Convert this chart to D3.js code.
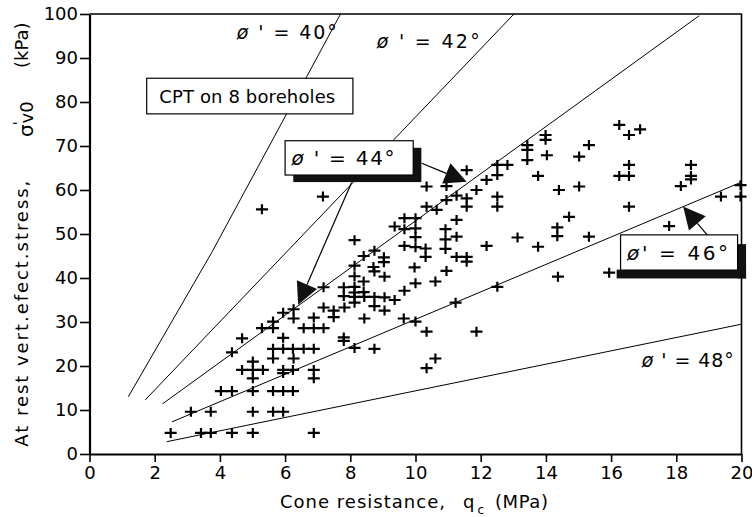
<!DOCTYPE html>
<html>
<head>
<meta charset="utf-8">
<script src="https://cdn.jsdelivr.net/npm/d3@7/dist/d3.min.js"></script>
<style>
  html, body { margin: 0; padding: 0; background: #fff; }
  svg { display: block; font-family: "DejaVu Sans", sans-serif; }
</style>
</head>
<body>
<svg id="chart" width="752" height="517"></svg>
<script>
// ---- data: cone resistance qc (MPa) and at-rest vertical effective stress (kPa)
const qc = [
  2.49,3.42,3.72,4.37,5.01,6.88,
  3.11,3.72,5.01,5.63,5.94,
  4.03,4.37,5.01,5.63,5.94,6.24,
  4.68,5.01,5.32,5.01,5.01,5.94,6.24,5.94,6.88,6.88,
  5.63,6.26,5.63,5.94,6.24,6.57,6.88,4.37,4.68,5.94,
  5.29,5.63,5.63,6.57,6.88,7.18,5.94,6.26,6.26,6.88,
  7.18,7.49,7.49,7.82,7.18,7.80,7.80,7.80,7.80,8.13,8.74,
  8.41,8.74,9.03,9.03,8.13,8.13,8.71,8.74,9.05,
  8.13,8.41,8.13,8.41,8.13,8.43,8.74,9.05,9.36,8.13,8.74,9.05,8.43,8.13,
  9.66,10.0,10.61,9.97,10.95,9.64,10.0,10.34,11.87,11.23,12.51,10.61,10.34,
  9.66,10.0,9.36,9.66,10.0,10.0,10.92,10.92,11.26,10.92,12.18,
  9.66,10.0,10.31,10.31,11.26,11.57,11.57,13.13,13.76,11.26,
  10.34,10.65,10.34,10.95,11.57,11.26,10.95,11.57,11.57,11.87,12.18,
  12.51,12.51,12.82,12.51,12.51,13.43,13.43,13.43,13.99,13.99,14.03,13.76,
  7.16,5.29,
  16.25,16.55,16.89,15.32,15.02,16.55,16.25,16.55,18.45,18.45,18.45,18.14,
  14.40,15.02,16.55,19.97,19.97,19.37,14.71,14.35,14.35,15.32,17.78,15.94,14.37
];
const sigma = [
  4.8,4.8,4.8,4.8,4.8,4.8,
  9.6,9.6,9.6,9.6,9.6,
  14.3,14.3,14.3,14.3,14.3,14.3,
  19.1,19.1,19.1,21.0,17.2,19.1,19.1,18.4,19.1,17.2,
  21.7,21.7,23.9,23.9,23.9,23.9,23.9,23.1,26.3,26.4,
  28.6,28.6,30.1,28.6,28.6,28.6,32.1,32.9,30.8,31.0,
  33.3,32.6,31.1,33.3,37.9,37.9,35.9,26.5,25.7,24.1,23.9,
  45.0,46.2,44.7,43.6,42.8,40.4,42.5,41.5,40.3,
  38.0,39.2,36.7,36.8,35.7,35.7,35.7,35.6,35.0,34.4,33.6,32.6,30.8,48.6,
  37.1,38.8,39.2,42.4,41.6,30.8,30.1,27.8,27.8,34.4,38.0,21.7,19.5,
  53.6,53.6,51.7,51.1,51.3,49.3,51.1,48.8,49.4,46.6,47.3,
  47.3,47.0,46.7,44.8,44.8,43.7,44.8,49.2,47.1,53.2,
  56.2,55.5,60.8,60.9,64.5,58.7,57.7,58.1,56.2,60.0,62.3,
  65.7,63.4,65.7,58.5,56.2,70.2,69.1,66.8,72.5,71.4,67.9,63.2,
  58.5,55.6,
  74.8,72.5,73.8,70.2,67.6,65.7,63.2,63.2,65.7,63.2,62.4,60.9,
  60.0,60.8,56.2,61.1,58.5,58.5,53.9,51.5,49.5,49.4,51.8,41.2,40.3
];

// friction-angle reference lines (qc, sigma'v0)
const phiNames = ["40", "42", "44", "46", "48"];
const phiQc = [[1.19, 3.75, 7.7], [1.71, 13.02], [2.24, 18.7], [2.53, 20.0], [2.37, 20.0]];
const phiSigma = [[13.0, 45.8, 100], [12.3, 100], [11.4, 99.6], [7.3, 61.8], [2.8, 29.5]];

const xTicks = [0, 2, 4, 6, 8, 10, 12, 14, 16, 18, 20];
const yTicks = [0, 10, 20, 30, 40, 50, 60, 70, 80, 90, 100];

// ---- layout
const W = 752, H = 517;
const x = d3.scaleLinear().domain([0, 20]).range([89.5, 741.5]);
const y = d3.scaleLinear().domain([0, 100]).range([454, 14]);

const svg = d3.select("#chart");
svg.append("rect").attr("width", W).attr("height", H).attr("fill", "#fff");

// frame (top and right)
svg.append("path")
  .attr("d", `M${x(0)},${y(100)}H${x(20)}V${y(0)}`)
  .attr("fill", "none").attr("stroke", "#000").attr("stroke-width", 1.6);

// phi lines
const lineGen = d3.line().x(d => x(d[0])).y(d => y(d[1]));
phiNames.forEach((n, i) => {
  const pts = phiQc[i].map((q, j) => [q, phiSigma[i][j]]);
  svg.append("path").attr("d", lineGen(pts))
    .attr("fill", "none").attr("stroke", "#000").attr("stroke-width", 1);
});

// data points as crosses
svg.append("g").selectAll("path").data(qc.map((q, i) => [q, sigma[i]]))
  .join("path")
  .attr("d", d => `M${x(d[0]) - 6},${y(d[1])}h12M${x(d[0])},${y(d[1]) - 5}v10`)
  .attr("stroke", "#000").attr("stroke-width", 2.2).attr("fill", "none");

// axes
const gx = svg.append("g").attr("transform", `translate(0,${y(0)})`)
  .call(d3.axisBottom(x).tickValues(xTicks).tickSize(8).tickSizeOuter(0).tickPadding(4));
const gy = svg.append("g").attr("transform", `translate(${x(0)},0)`)
  .call(d3.axisLeft(y).tickValues(yTicks).tickSize(9.5).tickSizeOuter(0).tickPadding(2));
[gx, gy].forEach(g => {
  g.select(".domain").attr("stroke", "#000").attr("stroke-width", 2.2);
  g.selectAll(".tick line").attr("stroke", "#000").attr("stroke-width", 1.6);
  g.selectAll(".tick text").attr("fill", "#000")
    .style("font-family", "DejaVu Sans").style("font-size", "18px");
});

// axis titles
const xt = svg.append("g").style("font-size", "18px").attr("fill", "#000");
xt.append("text").attr("x", 280).attr("y", 508).attr("textLength", 165)
  .attr("lengthAdjust", "spacing").text("Cone resistance,");
xt.append("text").attr("x", 463).attr("y", 508).text("q");
xt.append("text").attr("x", 477.5).attr("y", 513.5).style("font-size", "12px").text("c");
xt.append("text").attr("x", 495).attr("y", 508).attr("textLength", 53)
  .attr("lengthAdjust", "spacing").text("(MPa)");

const yt = svg.append("g").attr("transform", "translate(28,0) rotate(-90)")
  .style("font-size", "18px").attr("fill", "#000");
yt.append("text").attr("x", -446.7).attr("y", 0).attr("textLength", 266)
  .attr("lengthAdjust", "spacing").text("At rest vert.efect.stress,");
const sg = yt.append("text").attr("x", -137).attr("y", 5);
sg.append("tspan").style("font-size", "20px").text("σ");
sg.append("tspan").attr("dy", -10).attr("dx", -1).style("font-size", "14px").text("'");
sg.append("tspan").attr("dy", 10).attr("dx", -2).text("v0");
yt.append("text").attr("x", -68).attr("y", 0).text("(kPa)");

// ---- annotations (positions in data units)
function shadowBox(x0, y0, x1, y1, shadows) {
  shadows.forEach(s => svg.append("rect")
    .attr("x", x(s[0])).attr("y", y(s[3]))
    .attr("width", x(s[2]) - x(s[0])).attr("height", y(s[1]) - y(s[3]))
    .attr("fill", "#111"));
  svg.append("rect").attr("x", x(x0)).attr("y", y(y1))
    .attr("width", x(x1) - x(x0)).attr("height", y(y0) - y(y1))
    .attr("fill", "#fff").attr("stroke", "#000").attr("stroke-width", 1.2);
}
function label(rest, qx, sy, len, size) {
  const t = svg.append("text").attr("x", x(qx)).attr("y", y(sy))
    .attr("textLength", len).attr("lengthAdjust", "spacing")
    .style("font-size", size + "px").attr("fill", "#000");
  t.append("tspan").style("font-style", "italic").text("ø");
  t.append("tspan").text(rest);
}
function arrow(q0, s0, q1, s1) {
  const x0 = x(q0), y0 = y(s0), x1 = x(q1), y1 = y(s1);
  const dx = x1 - x0, dy = y1 - y0, L = Math.hypot(dx, dy);
  const ux = dx / L, uy = dy / L, len = 22, hw = 11;
  const bx = x1 - ux * len, by = y1 - uy * len;
  svg.append("line").attr("x1", x0).attr("y1", y0).attr("x2", bx).attr("y2", by)
    .attr("stroke", "#000").attr("stroke-width", 1.2);
  svg.append("path")
    .attr("d", `M${x1},${y1}L${bx - uy * hw},${by + ux * hw}L${bx + uy * hw},${by - ux * hw}Z`)
    .attr("fill", "#111");
}

// CPT box
shadowBox(1.755, 77.3, 8.08, 85.4, []);
svg.append("text").attr("x", x(2.14)).attr("y", y(79.7))
  .attr("textLength", 176).attr("lengthAdjust", "spacing")
  .style("font-size", "18px").attr("fill", "#000").text("CPT on 8 boreholes");

// phi' = 44 box with arrows
arrow(10.19, 66.07, 11.57, 61.9);
arrow(8.04, 61.7, 6.40, 33.9);
shadowBox(6.0, 63.4, 9.93, 71.2, [[6.25, 61.8, 10.18, 69.6]]);
label(" ' = 44°", 6.2, 65.7, 103, 20);

// phi' = 46 box with arrow
arrow(18.98, 49.5, 18.21, 56.25);
shadowBox(16.29, 41.8, 19.88, 49.8, [[16.17, 39.9, 20.14, 41.9], [19.88, 39.9, 20.14, 47.7]]);
label("' = 46°", 16.49, 44.1, 101, 20);

// other phi labels
label(" ' = 40°", 4.52, 94.25, 100, 19);
label(" ' = 42°", 8.81, 92.3, 103, 19);
label(" ' = 48°", 16.94, 19.84, 92, 19);
</script>
</body>
</html>
